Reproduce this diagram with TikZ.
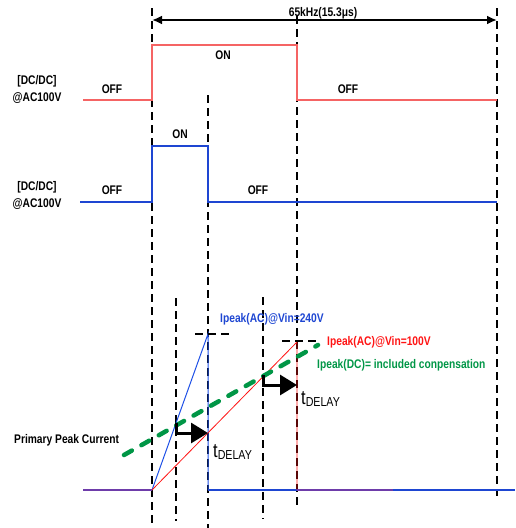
\documentclass[tikz,border=0pt]{standalone}
\usepackage{fontspec}
\setmainfont{Liberation Sans}[FakeStretch=0.82]
\usetikzlibrary{arrows.meta}
\definecolor{sigred}{RGB}{245,100,100}
\definecolor{sigblue}{RGB}{30,70,210}
\definecolor{rampred}{RGB}{255,20,20}
\definecolor{rampblue}{RGB}{30,80,230}
\definecolor{dcgreen}{RGB}{0,150,70}
\definecolor{basepurple}{RGB}{110,60,170}
\begin{document}
\begin{tikzpicture}[x=1pt,y=-1pt,
  guide/.style={draw=black,line width=2.3pt,dash pattern=on 8pt off 5pt},
  peakmark/.style={draw=black,line width=2.2pt,dash pattern=on 8pt off 5pt},
  lbl/.style={font=\fontsize{12.5}{17}\selectfont\bfseries,inner sep=0pt,align=center},
  sigR/.style={draw=sigred,line width=1.6pt},
  sigB/.style={draw=sigblue,line width=1.3pt},
  rampR/.style={draw=rampred,line width=0.8pt},
  rampB/.style={draw=rampblue,line width=1pt},
  comp/.style={draw=dcgreen,line width=4.5pt,line cap=round,dash pattern=on 9pt off 11pt},
  delay/.style={draw=black,line width=3pt,-{Triangle[length=17pt,width=20pt]}},
  tdl/.style={inner sep=0pt,anchor=base west}
]
\useasboundingbox (0,0) rectangle (515,528);
% guide lines
\coordinate (g1t) at (152,8);   \coordinate (g1b) at (152,528);
\coordinate (g2t) at (208,95);  \coordinate (g2b) at (208,528);
\coordinate (g3t) at (297,16);  \coordinate (g3b) at (297,508);
\coordinate (g4t) at (497,8);   \coordinate (g4b) at (497,496);
\coordinate (g5t) at (176,298); \coordinate (g5b) at (176,521);
\coordinate (g6t) at (263,297); \coordinate (g6b) at (263,519);
\foreach \g in {1,...,6} \draw[guide] (g\g t) -- (g\g b);
% period arrow
\coordinate (pa) at (152,20); \coordinate (pb) at (497,20);
\draw[line width=2.5pt,{Latex[length=10pt,width=9pt]}-{Latex[length=10pt,width=9pt]}] (pa) -- (pb);
\node[lbl] (freq) at (323,13) {65kHz(15.3μs)};
% red signal
\coordinate (r0) at (83,100); \coordinate (r1) at (152,100); \coordinate (r2) at (152,45);
\coordinate (r3) at (297,45); \coordinate (r4) at (297,100); \coordinate (r5) at (497,100);
\draw[sigR] (r0) -- (r1) -- (r2) -- (r3) -- (r4) -- (r5);
\node[lbl] (ron) at (223,55) {ON};
\node[lbl] (roff1) at (112,89) {OFF};
\node[lbl] (roff2) at (348,89) {OFF};
\node[lbl] (rname) at (37,89.5) {[DC/DC]\\@AC100V};
% blue signal
\coordinate (b0) at (80,202); \coordinate (b1) at (152,202); \coordinate (b2) at (152,146);
\coordinate (b3) at (208,146); \coordinate (b4) at (208,202); \coordinate (b5) at (497,202);
\draw[sigB] (b0) -- (b1) -- (b2) -- (b3) -- (b4) -- (b5);
\node[lbl] (bon) at (180,134) {ON};
\node[lbl] (boff1) at (112,190) {OFF};
\node[lbl] (boff2) at (258,190) {OFF};
\node[lbl] (bname) at (37,195) {[DC/DC]\\@AC100V};
% primary current
\coordinate (c0) at (83,490); \coordinate (c1) at (152,490);
\coordinate (bp) at (208,334); \coordinate (bb) at (208,490); \coordinate (be) at (515,490);
\coordinate (rp) at (297,342); \coordinate (rb) at (297,490); \coordinate (re) at (393,490);
\draw[rampB] (c1) -- (bp) -- (bb);
\draw[sigB] (bb) -- (be);
\draw[rampR] (c1) -- (rp) -- (rb);
\draw[draw=basepurple,line width=1.8pt] (c0) -- (c1);
\draw[draw=basepurple,line width=1.5pt] (rb) -- (re);
% peak markers
\coordinate (bm1) at (195,334); \coordinate (bm2) at (233,334);
\coordinate (rm1) at (282,341); \coordinate (rm2) at (318,341);
\draw[peakmark] (bm1) -- (bm2);
\draw[peakmark] (rm1) -- (rm2);
% compensated peak
\coordinate (gA) at (124,455); \coordinate (gB) at (318,345);
\draw[comp] (gA) -- (gB);
% delay arrows
\coordinate (d1a) at (176,423); \coordinate (d1b) at (176,433); \coordinate (d1c) at (208,433);
\coordinate (d2a) at (263,375); \coordinate (d2b) at (263,385); \coordinate (d2c) at (297,385);
\draw[delay] (d1a) -- (d1b) -- (d1c);
\draw[delay] (d2a) -- (d2b) -- (d2c);
\node[tdl] (td1) at (213,457) {\fontsize{20}{20}\selectfont t\raisebox{-2.5pt}{\fontsize{13}{13}\selectfont DELAY}};
\node[tdl] (td2) at (301,404) {\fontsize{20}{20}\selectfont t\raisebox{-2.5pt}{\fontsize{13}{13}\selectfont DELAY}};
% labels
\node[lbl,anchor=west,text=sigblue] (l240) at (220,319) {Ipeak(AC)@Vin=240V};
\node[lbl,anchor=west,text=rampred] (l100) at (327,342) {Ipeak(AC)@Vin=100V};
\node[lbl,anchor=west,text=dcgreen] (ldc) at (317,365) {Ipeak(DC)= included conpensation};
\node[lbl,anchor=west] (lpp) at (14,440) {Primary Peak Current};
\end{tikzpicture}
\end{document}
